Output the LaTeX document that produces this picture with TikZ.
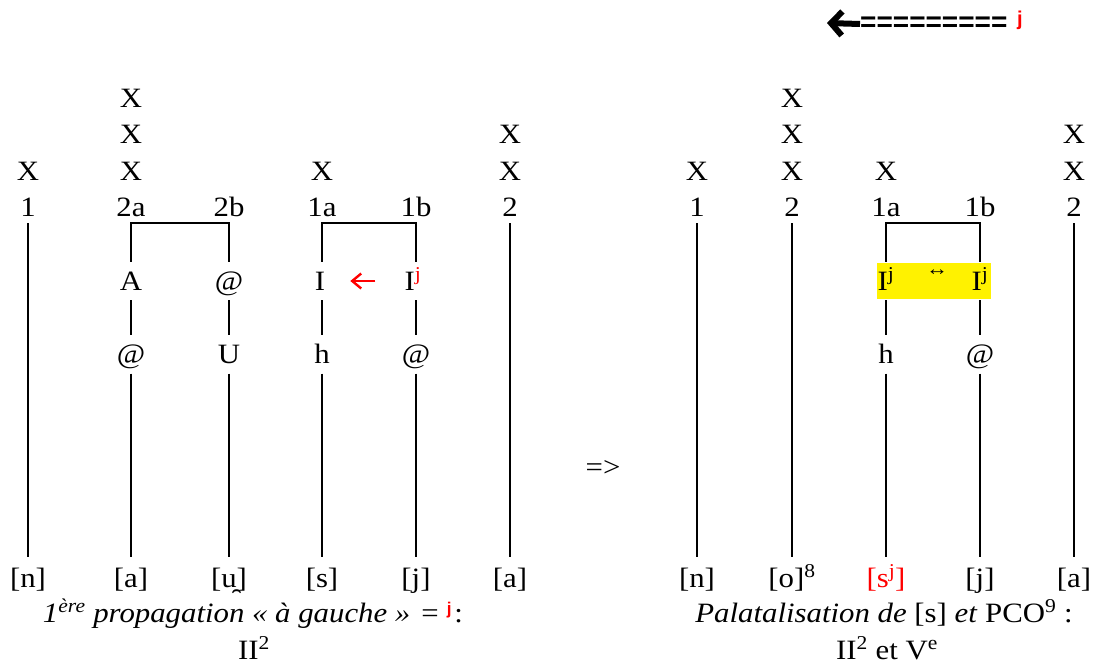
\documentclass[tikz,border=0pt]{standalone}
\usepackage{fontspec}
\setmainfont{Liberation Serif}[FakeStretch=1.1]
\newfontfamily\headsans{Liberation Sans}
\usetikzlibrary{arrows.meta}

% red bold palatal element
\newcommand{\palj}[1]{{\color{red}\headsans\bfseries\fontsize{#1}{#1}\selectfont j}}

\begin{document}
\begin{tikzpicture}[x=1pt,y=-1pt,
  main/.style={font=\fontsize{28}{34}\selectfont, inner sep=0pt},
  xmark/.style={main, anchor=base},
  num/.style={main, anchor=base, text depth=0pt, inner xsep=0pt, inner ysep=6.5pt},
  seg/.style={main, minimum height=38pt, text height=18pt, text depth=0pt, inner sep=0pt},
  sound/.style={main, anchor=base, text height=24pt, inner xsep=0pt, inner ysep=6pt},
  caption/.style={font=\fontsize{28}{34}\selectfont, anchor=base, inner sep=0pt},
  tier/.style={line width=1.6pt},
  spread/.style={red, line width=2.4pt, -{Straight Barb[length=9pt,width=15pt]}},
  hilite/.style={fill=yellow, draw=none, minimum width=114pt, minimum height=36pt, inner sep=0pt}
]
\useasboundingbox (0,0) rectangle (1093,664);

% ---------- top: leftward propagation of j ----------
\node[font=\headsans\bfseries\fontsize{28}{28}\selectfont, inner sep=0pt, anchor=west] (eqs) at (860,24) {=========};
\coordinate (eqtip) at (827,23);
\draw[line width=6pt, -{Straight Barb[length=11pt,width=24pt]}] (eqs.west) -- (eqtip);
\node[inner sep=0pt] (topj) at (1020,20) {\palj{20}};

% ---------- left diagram ----------
% skeleton
\node[xmark] (xa1) at (28,180) {X};
\node[xmark] (xb1) at (131,107) {X};
\node[xmark] (xb2) at (131,143) {X};
\node[xmark] (xb3) at (131,180) {X};
\node[xmark] (xc1) at (322,180) {X};
\node[xmark] (xd1) at (510,143) {X};
\node[xmark] (xd2) at (510,180) {X};

\node[num] (nL1)  at (28,216.5)  {1};
\node[num] (nL2a) at (131,216.5) {2a};
\node[num] (nL2b) at (229,216.5) {2b};
\node[num] (nL1a) at (322,216.5) {1a};
\node[num] (nL1b) at (416,216.5) {1b};
\node[num] (nL2)  at (510,216.5) {2};

% melodic elements
\node[seg] (aL2a) at (131,281) {A};
\node[seg] (aL2b) at (229,281) {@};
\node[seg] (aL1a) at (320,281) {I};
\node[seg] (aL1b) at (413,281) {I\textsuperscript{\color{red}j}};

\node[seg] (cL2a) at (131,354.5) {@};
\node[seg] (cL2b) at (229,354.5) {U};
\node[seg] (cL1a) at (322,354.5) {h};
\node[seg] (cL1b) at (416,354.5) {@};

% surface segments
\node[sound] (bL1)  at (28,587)  {[n]};
\node[sound] (bL2a) at (131,587) {[a]};
\node[sound] (bL2b) at (229,587) {[u̯]};
\node[sound] (bL1a) at (322,587) {[s]};
\node[sound] (bL1b) at (416,587) {[j]};
\node[sound] (bL2)  at (510,587) {[a]};

% association lines
\draw[tier] (nL1.south) -- (bL1.north);
\draw[tier] (nL2.south) -- (bL2.north);
\draw[tier] (aL2a.north) -- (aL2a.north |- nL2a.south) -| (aL2b.north);
\draw[tier] (nL1a.south |- aL1a.north) -- (nL1a.south) -| (nL1b.south |- aL1b.north);
\draw[tier] (nL1a.south |- aL1a.south) -- (cL1a.north);
\draw[tier] (nL1b.south |- aL1b.south) -- (cL1b.north);
\foreach \c in {L2a,L2b} {
  \draw[tier] (a\c.south) -- (c\c.north);
}
\foreach \c in {L2a,L2b,L1a,L1b} {
  \draw[tier] (c\c.south) -- (b\c.north);
}
\draw[spread, shorten <=29pt, shorten >=25pt] (aL1b.west) -- (aL1a.east);

\node[caption] (capL1) at (253,622) {\textit{1\textsuperscript{ère} propagation « à gauche »}\hspace{11pt}=\hspace{8pt}\raisebox{8pt}{\palj{17}}\hspace{3pt}:};
\node[caption] (capL2) at (254,659) {II\textsuperscript{2}};

% ---------- transition ----------
\node[main] (implies) at (603,468) {=>};

% ---------- right diagram ----------
\node[xmark] (ya1) at (697,180) {X};
\node[xmark] (yb1) at (792,107) {X};
\node[xmark] (yb2) at (792,143) {X};
\node[xmark] (yb3) at (792,180) {X};
\node[xmark] (yc1) at (886,180) {X};
\node[xmark] (yd1) at (1074,143) {X};
\node[xmark] (yd2) at (1074,180) {X};

\node[num] (nR1)  at (697,216.5)  {1};
\node[num] (nR2)  at (792,216.5)  {2};
\node[num] (nR1a) at (886,216.5)  {1a};
\node[num] (nR1b) at (980,216.5)  {1b};
\node[num] (nR2b) at (1074,216.5) {2};

\node[hilite] (pal) at (934,281) {};
\node[seg] (aR1a) at (886,281) {I\textsuperscript{j}};
\node[seg] (aR1b) at (980,281) {I\textsuperscript{j}};
\node[font=\fontsize{20}{20}\selectfont, inner sep=0pt] (link) at (937,273) {↔};

\node[seg] (cR1a) at (886,354.5) {h};
\node[seg] (cR1b) at (980,354.5) {@};

\node[sound] (bR1)  at (697,587)  {[n]};
\node[sound] (bR2)  at (792,587)  {[o]\textsuperscript{8}};
\node[sound, text=red] (bR1a) at (886,587) {[s\textsuperscript{j}]};
\node[sound] (bR1b) at (980,587)  {[j]};
\node[sound] (bR2b) at (1074,587) {[a]};

\draw[tier] (nR1.south) -- (bR1.north);
\draw[tier] (nR2.south) -- (bR2.north);
\draw[tier] (nR2b.south) -- (bR2b.north);
\draw[tier] (aR1a.north) -- (aR1a.north |- nR1a.south) -| (aR1b.north);
\foreach \c in {R1a,R1b} {
  \draw[tier] (a\c.south) -- (c\c.north);
  \draw[tier] (c\c.south) -- (b\c.north);
}

\node[caption] (capR1) at (884,622) {\textit{Palatalisation de} [s] \textit{et} PCO\textsuperscript{9} :};
\node[caption] (capR2) at (887,659) {II\textsuperscript{2} et V\textsuperscript{e}};
\end{tikzpicture}
\end{document}
